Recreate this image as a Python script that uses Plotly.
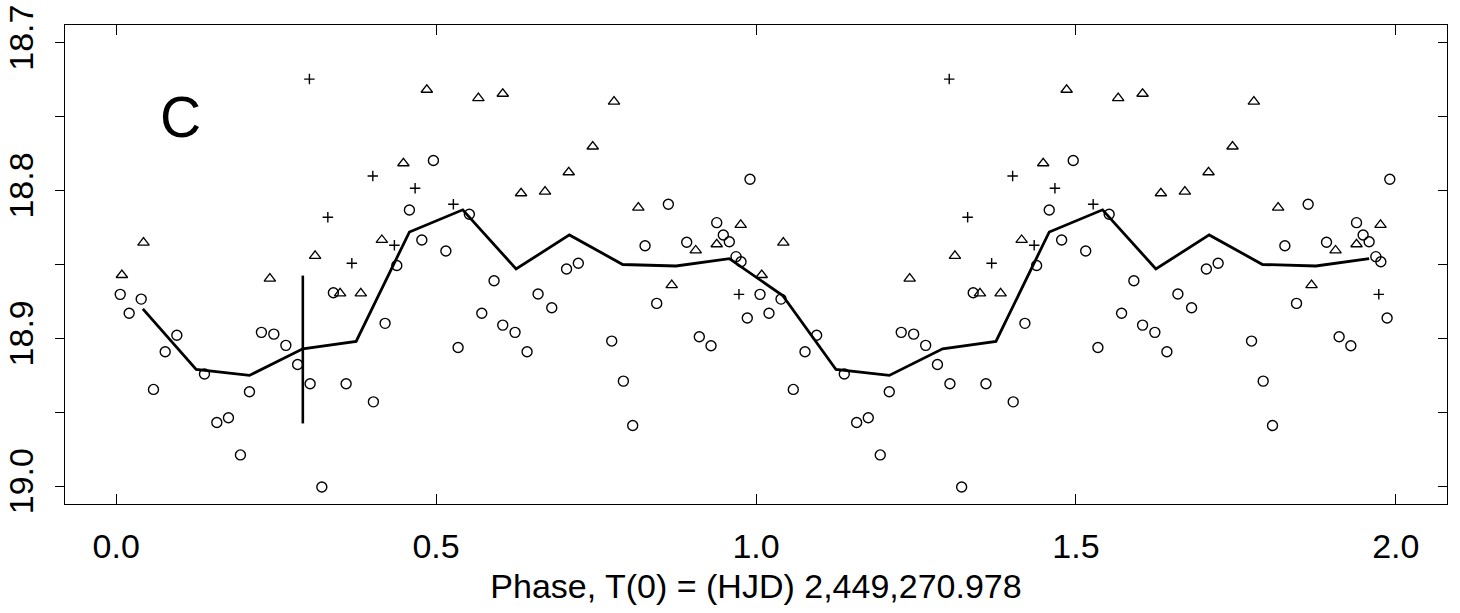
import plotly.graph_objects as go

# Phased photometry (phase in [0, 1)), plotted twice over two cycles
circle_phase = [0.0063, 0.0391, 0.0203, 0.0948, 0.0766, 0.0583, 0.1380, 0.2083, 0.1573, 0.1755,
                0.1942, 0.2270, 0.2464, 0.2652, 0.2836, 0.3031, 0.3594, 0.4020, 0.3214, 0.3395,
                0.4203, 0.4386, 0.4583, 0.4777, 0.4958, 0.5153, 0.5344, 0.5520, 0.5714, 0.5906,
                0.6042, 0.6234, 0.6422, 0.6594, 0.6808, 0.7039, 0.7223, 0.7745, 0.7927, 0.8073,
                0.8266, 0.8448, 0.8630, 0.8917, 0.9114, 0.9297, 0.9386, 0.9489, 0.9583, 0.9688,
                0.9766, 0.9864, 0.9906]
circle_mag = [18.8702, 18.8734, 18.8830, 18.8979, 18.9090, 18.9345, 18.9241, 18.9361, 18.9569, 18.9537,
              18.9788, 18.8959, 18.8971, 18.9047, 18.9176, 18.9307, 18.9307, 18.9429, 19.0005, 18.8691,
              18.8898, 18.8507, 18.8131, 18.8334, 18.7797, 18.8409, 18.9061, 18.8160, 18.8830, 18.8610,
              18.8910, 18.8959, 18.9090, 18.8700, 18.8793, 18.8530, 18.8492, 18.9018, 18.9289, 18.9589,
              18.8373, 18.8763, 18.8092, 18.8350, 18.8989, 18.9050, 18.8217, 18.8300, 18.8346, 18.8447,
              18.8481, 18.8862, 18.7923]

triangle_phase = [0.0089, 0.0427, 0.2402, 0.3109, 0.3500, 0.3823, 0.4152, 0.4489, 0.4855, 0.5661,
                  0.6042, 0.6328, 0.6703, 0.7073, 0.7448, 0.7781, 0.8161, 0.8683, 0.9058, 0.9386,
                  0.9761]
triangle_mag = [18.8571, 18.8352, 18.8596, 18.8442, 18.8695, 18.8695, 18.8334, 18.7815, 18.7318, 18.7374,
                18.7345, 18.8018, 18.8007, 18.7876, 18.7702, 18.7398, 18.8115, 18.8639, 18.8405, 18.8363,
                18.8232]

plus_phase = [0.3020, 0.3308, 0.3683, 0.4011, 0.4348, 0.4672, 0.5270, 0.9734]
plus_mag = [18.7246, 18.8180, 18.8492, 18.7901, 18.8370, 18.7984, 18.8092, 18.8702]

# Binned mean light curve (12 bins per cycle, two cycles)
bin_phase = [(i + 0.5) / 12 for i in range(24)]
bin_mag = [18.880, 18.921, 18.925, 18.907, 18.902, 18.828, 18.813, 18.853, 18.830, 18.850, 18.851, 18.846,
           18.871, 18.921, 18.925, 18.907, 18.902, 18.828, 18.813, 18.853, 18.830, 18.850, 18.851, 18.846]

# Typical error bar
err_phase = [0.2917]
err_mag = [18.9075]
err_size = [0.05]

x_ticks = [0.0, 0.5, 1.0, 1.5, 2.0]
x_ticktext = ["0.0", "0.5", "1.0", "1.5", "2.0"]
y_ticks = [18.70, 18.75, 18.80, 18.85, 18.90, 18.95, 19.00]
y_ticktext = ["18.7", "", "18.8", "", "18.9", "", "19.0"]

FONT = "Liberation Sans, Arial, Helvetica, sans-serif"


def two_cycles(phase, values):
    return list(phase) + [p + 1 for p in phase], list(values) + list(values)


fig = go.Figure()

cx, cy = two_cycles(circle_phase, circle_mag)
fig.add_trace(go.Scatter(x=cx, y=cy, mode="markers",
                         marker=dict(symbol="circle-open", size=10, color="black", line=dict(width=1.4))))

tx, ty = two_cycles(triangle_phase, triangle_mag)
fig.add_trace(go.Scatter(x=tx, y=ty, mode="markers",
                         marker=dict(symbol="triangle-up-open", size=10, color="black", line=dict(width=1.3))))

px_, py_ = two_cycles(plus_phase, plus_mag)
fig.add_trace(go.Scatter(x=px_, y=py_, mode="markers",
                         marker=dict(symbol="cross-thin-open", size=7.5, color="black", line=dict(width=1.4))))

fig.add_trace(go.Scatter(x=bin_phase, y=bin_mag, mode="lines",
                         line=dict(color="black", width=2.8)))

fig.add_trace(go.Scatter(x=err_phase, y=err_mag, mode="markers",
                         marker=dict(size=1, color="rgba(0,0,0,0)"),
                         error_y=dict(type="data", array=err_size, width=0, thickness=2.6, color="black")))

# Right-hand axis carrying the inward ticks
fig.add_trace(go.Scatter(x=[None], y=[None], yaxis="y2", showlegend=False))

y_range = [19.012, 18.688]

fig.update_layout(
    width=1460, height=613,
    margin=dict(l=65, r=13, t=25, b=109),
    paper_bgcolor="white", plot_bgcolor="white",
    showlegend=False,
    font=dict(family=FONT, size=34, color="black"),
    xaxis=dict(range=[-0.08, 2.08], tickvals=x_ticks, ticktext=x_ticktext,
               ticks="inside", ticklen=10, tickwidth=1.2, tickcolor="black",
               showline=True, linecolor="black", linewidth=1.3, mirror="ticks",
               showgrid=False, zeroline=False, ticklabelstandoff=12, automargin=False,
               tickfont=dict(family=FONT, size=34),
               title=dict(text="Phase, T(0) = (HJD) 2,449,270.978", standoff=10,
                          font=dict(family=FONT, size=34))),
    yaxis=dict(range=y_range, tickvals=y_ticks, ticktext=y_ticktext,
               ticks="outside", ticklen=9, tickwidth=1.2, tickcolor="black",
               showline=True, linecolor="black", linewidth=1.3, mirror=True,
               showgrid=False, zeroline=False, tickangle=-90, ticklabelstandoff=8,
               automargin=False, tickfont=dict(family=FONT, size=34)),
    yaxis2=dict(range=y_range, tickvals=y_ticks, overlaying="y", side="right",
                ticks="inside", ticklen=9, tickwidth=1.2, tickcolor="black",
                showticklabels=False, showgrid=False, zeroline=False, showline=False,
                automargin=False),
    annotations=[dict(x=0.1, y=18.75, xref="x", yref="y", text="C", showarrow=False,
                      font=dict(family=FONT, size=57, color="black"),
                      xanchor="center", yanchor="middle")],
)

fig.write_html("out.html")
